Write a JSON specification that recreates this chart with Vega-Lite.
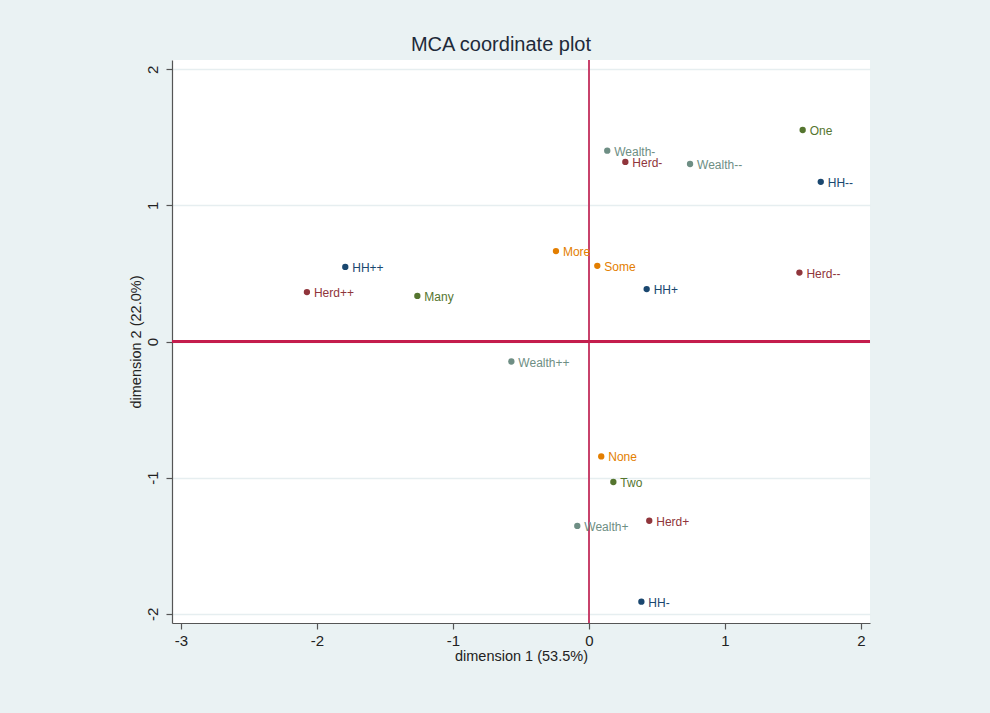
{
  "$schema": "https://vega.github.io/schema/vega-lite/v6.json",
  "width": 698,
  "height": 563,
  "autosize": {"type": "none"},
  "padding": {"left": 172, "top": 60, "right": 120, "bottom": 90},
  "background": "#eaf2f3",
  "config": {
    "font": "Liberation Sans",
    "view": {"fill": "#ffffff", "stroke": null},
    "axis": {
      "domainColor": "#555555",
      "tickColor": "#555555",
      "labelColor": "#222222",
      "titleColor": "#222222",
      "labelFont": "Liberation Sans",
      "titleFont": "Liberation Sans",
      "titleFontWeight": "normal",
      "labelFontSize": 15,
      "titleFontSize": 14.5,
      "tickSize": 6,
      "domainWidth": 1.2,
      "tickWidth": 1.2
    }
  },
  "title": {
    "text": "MCA coordinate plot",
    "fontSize": 20,
    "fontWeight": "normal",
    "color": "#1e2a3a",
    "font": "Liberation Sans",
    "anchor": "middle",
    "dx": -20,
    "offset": 4
  },
  "data": {
    "values": [
      {"cat": "One", "grp": "children", "d1": 1.571, "d2": 1.554},
      {"cat": "Wealth-", "grp": "wealth", "d1": 0.134, "d2": 1.402},
      {"cat": "Herd-", "grp": "herd", "d1": 0.267, "d2": 1.319},
      {"cat": "Wealth--", "grp": "wealth", "d1": 0.743, "d2": 1.304},
      {"cat": "HH--", "grp": "hh", "d1": 1.704, "d2": 1.173},
      {"cat": "More", "grp": "school", "d1": -0.243, "d2": 0.664},
      {"cat": "Some", "grp": "school", "d1": 0.061, "d2": 0.556},
      {"cat": "Herd--", "grp": "herd", "d1": 1.547, "d2": 0.506},
      {"cat": "HH+", "grp": "hh", "d1": 0.424, "d2": 0.385},
      {"cat": "HH++", "grp": "hh", "d1": -1.792, "d2": 0.548},
      {"cat": "Herd++", "grp": "herd", "d1": -2.074, "d2": 0.363},
      {"cat": "Many", "grp": "children", "d1": -1.262, "d2": 0.335},
      {"cat": "Wealth++", "grp": "wealth", "d1": -0.571, "d2": -0.147},
      {"cat": "None", "grp": "school", "d1": 0.09, "d2": -0.844},
      {"cat": "Two", "grp": "children", "d1": 0.179, "d2": -1.032},
      {"cat": "Wealth+", "grp": "wealth", "d1": -0.086, "d2": -1.355},
      {"cat": "Herd+", "grp": "herd", "d1": 0.443, "d2": -1.317},
      {"cat": "HH-", "grp": "hh", "d1": 0.385, "d2": -1.911}
    ]
  },
  "encoding": {
    "x": {
      "field": "d1",
      "type": "quantitative",
      "scale": {"domain": [-3.066, 2.066], "nice": false, "zero": false},
      "axis": {
        "title": "dimension 1 (53.5%)",
        "values": [-3, -2, -1, 0, 1, 2],
        "labelExpr": "'' + datum.value",
        "grid": false,
        "labelPadding": 4,
        "titlePadding": 1,
        "labelFlush": false
      }
    },
    "y": {
      "field": "d2",
      "type": "quantitative",
      "scale": {"domain": [-2.068, 2.068], "nice": false, "zero": false},
      "axis": {
        "title": "dimension 2 (22.0%)",
        "values": [-2, -1, 0, 1, 2],
        "labelExpr": "'' + datum.value",
        "grid": true,
        "gridColor": "#e6eef0",
        "gridWidth": 1.6,
        "labelAngle": -90,
        "labelAlign": "center",
        "labelBaseline": "bottom",
        "labelPadding": 6,
        "titlePadding": 2,
        "labelFlush": false
      }
    },
    "color": {
      "field": "grp",
      "type": "nominal",
      "scale": {
        "domain": ["hh", "herd", "children", "school", "wealth"],
        "range": ["#1a476f", "#90353b", "#55752f", "#e37e00", "#6e8e84"]
      },
      "legend": null
    }
  },
  "layer": [
    {
      "mark": {"type": "rule", "color": "#c8436c", "strokeWidth": 1.6},
      "encoding": {"x": {"datum": 0}, "y": null, "color": null}
    },
    {
      "mark": {"type": "rule", "color": "#c41e4e", "strokeWidth": 1.3},
      "encoding": {"y": {"datum": 0}, "x": null, "color": null}
    },
    {
      "mark": {"type": "circle", "size": 40, "opacity": 1}
    },
    {
      "mark": {"type": "text", "align": "left", "baseline": "middle", "dx": 7, "dy": 1, "fontSize": 12},
      "encoding": {"text": {"field": "cat"}}
    }
  ]
}
